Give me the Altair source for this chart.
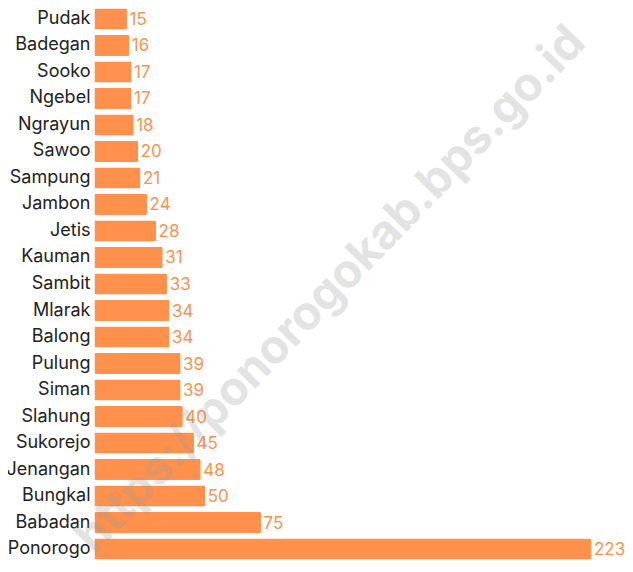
import altair as alt
import pandas as pd

categories = ["Pudak", "Badegan", "Sooko", "Ngebel", "Ngrayun", "Sawoo", "Sampung",
              "Jambon", "Jetis", "Kauman", "Sambit", "Mlarak", "Balong", "Pulung",
              "Siman", "Slahung", "Sukorejo", "Jenangan", "Bungkal", "Babadan", "Ponorogo"]
values = [15, 16, 17, 17, 18, 20, 21, 24, 28, 31, 33, 34, 34, 39, 39, 40, 45, 48, 50, 75, 223]
watermark = ["https://ponorogokab.bps.go.id"]

df = pd.DataFrame({"kecamatan": categories, "nilai": values})
wm = pd.DataFrame({"t": watermark})

FONT = "Inter"
ORANGE = "#FF914D"

y_enc = alt.Y("kecamatan:N", sort=categories, title=None,
              scale=alt.Scale(paddingInner=0.17, paddingOuter=0.0),
              axis=alt.Axis(domain=False, ticks=False, labelPadding=4,
                            labelFontSize=18, labelFont=FONT, labelColor="#222222",
                            labelLimit=200))
x_enc = alt.X("nilai:Q", title=None, scale=alt.Scale(domain=[0, 237.8], nice=False),
              axis=None)

bars = alt.Chart(df).mark_bar(color=ORANGE, stroke="white", strokeWidth=1,
                              cornerRadius=2).encode(x=x_enc, y=y_enc)
labels = alt.Chart(df).mark_text(align="left", baseline="middle", dx=2, dy=1,
                                 font=FONT, fontSize=17, color=ORANGE).encode(
    x=x_enc, y=y_enc, text="nilai:Q")
mark_wm = alt.Chart(wm).mark_text(font=FONT, fontSize=47, fontWeight="bold",
                                  color="#999999", opacity=0.27, angle=314,
                                  align="center", baseline="middle").encode(
    x=alt.value(237), y=alt.value(282), text="t:N")

chart = alt.layer(bars, labels, mark_wm).properties(
    width=531, height=552,
    padding={"left": 86, "top": 0, "right": 0, "bottom": 0},
    autosize=alt.AutoSizeParams(type="none"),
).configure_view(stroke=None)

chart.save("out.html", embed_options={"renderer": "svg", "actions": False})
